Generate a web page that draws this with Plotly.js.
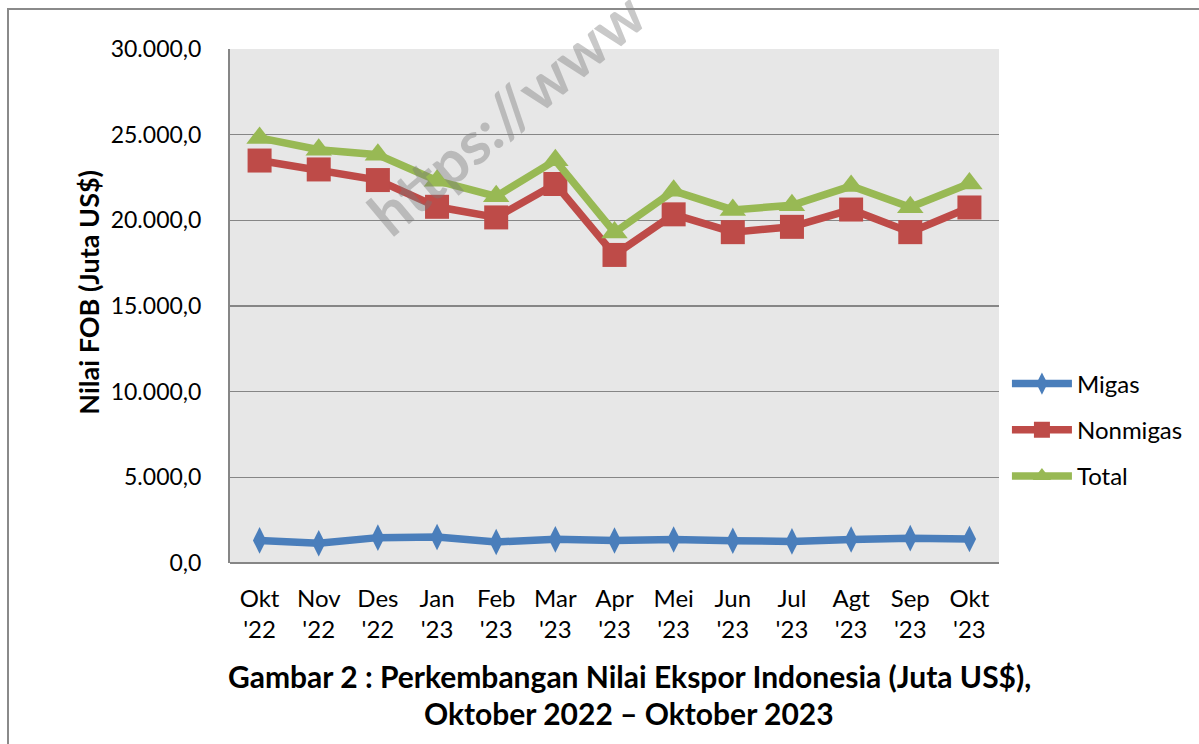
<!DOCTYPE html>
<html>
<head>
<meta charset="utf-8">
<script src="https://cdn.plot.ly/plotly-3.0.1.min.js"></script>
<style>
  html, body { margin: 0; padding: 0; width: 1199px; height: 744px; overflow: hidden; background: #fff; }
  #chart { position: absolute; left: 0; top: 0; width: 1199px; height: 744px; }
  #frame { position: absolute; left: 7px; top: 8px; width: 1300px; height: 900px; border: 2px solid #8a8a8a; pointer-events: none; box-sizing: border-box; }
</style>
</head>
<body>
<div id="chart"></div>
<div id="frame"></div>
<script>
const categories = ["Okt<br>'22", "Nov<br>'22", "Des<br>'22", "Jan<br>'23", "Feb<br>'23", "Mar<br>'23", "Apr<br>'23", "Mei<br>'23", "Jun<br>'23", "Jul<br>'23", "Agt<br>'23", "Sep<br>'23", "Okt<br>'23"];
const migas    = [1320, 1150, 1480, 1520, 1230, 1380, 1310, 1370, 1300, 1260, 1370, 1450, 1400];
const nonmigas = [23490, 22970, 22350, 20790, 20170, 22120, 17980, 20350, 19310, 19620, 20630, 19310, 20750];
const total    = [24810, 24120, 23830, 22310, 21400, 23500, 19290, 21720, 20610, 20880, 22000, 20760, 22150];
const yTicks = [0, 5000, 10000, 15000, 20000, 25000, 30000];

const FONT = "Lato, 'Open Sans', sans-serif";

const traces = [
  { name: "Migas", x: categories, y: migas, type: "scatter", mode: "lines+markers",
    line: { color: "#4a7ebb", width: 7.5 },
    marker: { symbol: "diamond-tall", size: 19, color: "#4a7ebb" },
    legendgroup: "a" },
  { name: "Nonmigas", x: categories, y: nonmigas, type: "scatter", mode: "lines+markers",
    line: { color: "#be4b48", width: 7.5 },
    marker: { symbol: "square", size: 24, color: "#be4b48" },
    legendgroup: "b" },
  { name: "Total", x: categories, y: total, type: "scatter", mode: "lines+markers",
    line: { color: "#98b954", width: 7.5 },
    marker: { symbol: "triangle-up", size: 23, color: "#98b954" },
    legendgroup: "c" }
];

const layout = {
  width: 1199, height: 744,
  margin: { l: 230, r: 199, t: 49, b: 181 },
  paper_bgcolor: "#ffffff",
  plot_bgcolor: "#e7e7e7",
  separators: ",.",
  font: { family: FONT, size: 23, color: "#000" },
  showlegend: true,
  legend: {
    x: 1.009, y: 0.392, xanchor: "left", yanchor: "top",
    itemwidth: 60, tracegroupgap: 12,
    font: { family: FONT, size: 24, color: "#000" },
    bgcolor: "rgba(0,0,0,0)"
  },
  xaxis: {
    type: "category",
    range: [-0.5, 12.5],
    showgrid: false,
    showline: false,
    ticks: "",
    ticklabelstandoff: 19,
    tickfont: { family: FONT, size: 24, color: "#000" },
    zeroline: false,
    fixedrange: true
  },
  yaxis: {
    range: [0, 30000],
    tickvals: yTicks,
    tickformat: ",.1f",
    showgrid: true,
    gridcolor: "#868686",
    gridwidth: 1.5,
    showline: true,
    linecolor: "#868686",
    linewidth: 2,
    zeroline: true,
    zerolinecolor: "#868686",
    zerolinewidth: 2,
    ticks: "",
    ticklabelstandoff: 22,
    tickfont: { family: FONT, size: 23, color: "#000" },
    fixedrange: true
  },
  annotations: [
    { text: "<b>Nilai FOB (Juta US$)</b>", xref: "paper", yref: "paper",
      x: -0.184, y: 0.527, xanchor: "center", yanchor: "middle", textangle: -90,
      showarrow: false, font: { family: FONT, size: 27, color: "#000" } },
    { text: "<b>Gambar 2 : Perkembangan Nilai Ekspor Indonesia (Juta US$),</b>", xref: "paper", yref: "paper",
      x: 0.519, y: -0.2198, xanchor: "center", yanchor: "middle",
      showarrow: false, font: { family: FONT, size: 30, color: "#000" } },
    { text: "<b>Oktober 2022 – Oktober 2023</b>", xref: "paper", yref: "paper",
      x: 0.519, y: -0.2918, xanchor: "center", yanchor: "middle",
      showarrow: false, font: { family: FONT, size: 30, color: "#000" } },
    { text: "<b>https://www</b>", xref: "paper", yref: "paper",
      x: 0.3584, y: 0.8755, xanchor: "center", yanchor: "middle", textangle: -40,
      showarrow: false, font: { family: FONT, size: 60, color: "rgba(120,120,120,0.4)" } }
  ]
};

Plotly.newPlot("chart", traces, layout, { displayModeBar: false, staticPlot: true });
</script>
</body>
</html>
